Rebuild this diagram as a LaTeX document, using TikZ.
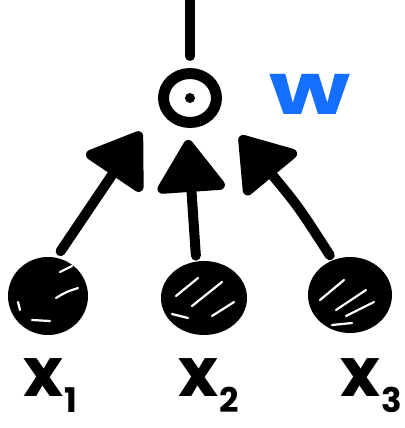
\documentclass[tikz,border=0pt]{standalone}
\usepackage{fontspec}
\setmainfont{Poppins}
\usetikzlibrary{arrows.meta,shapes.geometric}
\definecolor{wblue}{RGB}{20,110,255}
\tikzset{
  ink/.style={line width=10pt, line cap=round, line join=round},
  unit/.style={ellipse, draw, line width=11pt, inner sep=0pt},
  input/.style={ellipse, draw, fill=black, line width=10pt, inner sep=0pt},
  arr/.style={ink, -{Triangle[length=56pt,width=74pt,round]}},
  gap/.style={white, line width=2.2pt, line cap=round},
  lbl/.style={font=\bfseries\fontsize{68}{68}\selectfont, inner sep=0pt, anchor=base west}
}
\newcommand{\subd}[1]{\kern1pt\raisebox{-16pt}{\fontsize{34}{34}\selectfont #1}}
\begin{document}
\begin{tikzpicture}[x=1pt,y=-1pt]
\useasboundingbox (0,0) rectangle (404,428);
% output unit
\node[unit, minimum width=53pt, minimum height=49pt] (top) at (190,98) {};
\fill (top.center) circle (5pt);
\coordinate (out) at (190,-6);
\path (top.north) ++(0,-12) coordinate (topend);
\draw[ink] (topend) -- (out);
% inputs
\node[input, minimum width=70pt, minimum height=68pt] (x1) at (48,296) {};
\node[input, minimum width=76pt, minimum height=64pt] (x2) at (204,298) {};
\node[input, minimum width=74pt, minimum height=66pt] (x3) at (350,295) {};
% scribble gaps
\draw[gap] (60,272) -- (72,266);
\draw[gap] (56,298) .. controls (66,292) .. (78,288);
\draw[gap] (32,320) -- (50,321);
\draw[gap] (18,302) -- (20,310);
\draw[gap] (176,296) -- (198,278);
\draw[gap] (192,306) -- (222,282);
\draw[gap] (212,316) -- (234,302);
\draw[gap] (172,314) -- (188,318);
\draw[gap] (320,300) -- (344,280);
\draw[gap] (336,310) -- (366,290);
\draw[gap] (346,316) -- (374,302);
\draw[gap] (332,325) -- (352,323);
% arrows
\coordinate (t1) at (141,132);
\coordinate (t2) at (188,140);
\coordinate (t3) at (240,136);
\draw[arr, shorten <=8pt] (x1.78) -- (t1);
\draw[arr, shorten <=6pt] (x2.102) -- (t2);
\draw[arr, shorten <=6pt] (x3.116) .. controls (298,206) .. (t3);
% labels
\node[lbl] (l1) at (23,396) {x\subd{1}};
\node[lbl] (l2) at (178,396) {x\subd{2}};
\node[lbl] (l3) at (340,396) {x\subd{3}};
\node[font=\bfseries\fontsize{72}{72}\selectfont, text=wblue, inner sep=0pt, anchor=base, xscale=1.3] (w) at (310,114) {w};
\end{tikzpicture}
\end{document}
